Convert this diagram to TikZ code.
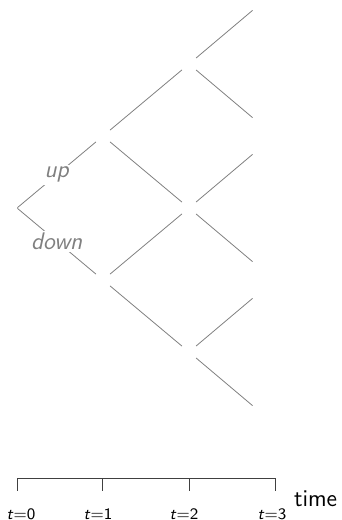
\documentclass[tikz,border=0pt]{standalone}
\usepackage{tikz}
\usetikzlibrary{positioning}
\renewcommand{\familydefault}{\sfdefault}

\begin{document}
\begin{tikzpicture}[
  x=0.5pt, y=-0.5pt,
  font=\sffamily,
  grow'=right,
  level distance=43pt,
  level 1/.style={sibling distance=72pt},
  level 2/.style={sibling distance=72pt},
  level 3/.style={sibling distance=54pt, level distance=32pt},
  edge from parent/.style={draw=gray, line width=0.4pt},
  branch/.style={midway, fill=white, inner sep=1pt, text=gray, font=\sffamily\itshape\large},
  leaf/.style={inner sep=0pt, minimum size=0pt},
  tlabel/.style={font=\sffamily\footnotesize}
]
\useasboundingbox (0,0) rectangle (342,520);

% binomial tree (middle node at t=2 is shared, its branches drawn once)
\node[leaf] (root) at (17,208) {}
  child {node (u) {}
    child {node (uu) {}
      child {node[leaf] (uuu) {}}
      child {node[leaf] (uud) {}}}
    child {node (ud) {}
      child {node[leaf] (udu) {}}
      child {node[leaf] (udd) {}}}
    edge from parent node[branch] {up}}
  child {node (d) {}
    child {node (du) {}
      child {node[leaf] (duu) {} edge from parent[draw=none]}
      child {node[leaf] (dud) {} edge from parent[draw=none]}}
    child {node (dd) {}
      child {node[leaf] (ddu) {}}
      child {node[leaf] (ddd) {}}}
    edge from parent node[branch] {down}};

% time axis
\coordinate (a0) at (17,478);
\coordinate (a1) at (102,478);
\coordinate (a2) at (189,478);
\coordinate (a3) at (275,478);
\draw[black!75] (a0) -- (a3);
\draw[black!75] (a0) -- ++(0,13);
\draw[black!75] (a1) -- ++(0,13);
\draw[black!75] (a2) -- ++(0,13);
\draw[black!75] (a3) -- ++(0,13);

\node[tlabel] (t0) at (21,514) {\textit{t}=0};
\node[tlabel] (t1) at (98,514) {\textit{t}=1};
\node[tlabel] (t2) at (184,514) {\textit{t}=2};
\node[tlabel] (t3) at (272,514) {\textit{t}=3};
\node[anchor=west, font=\sffamily\large] (time) at (287,499) {time};

\end{tikzpicture}
\end{document}
